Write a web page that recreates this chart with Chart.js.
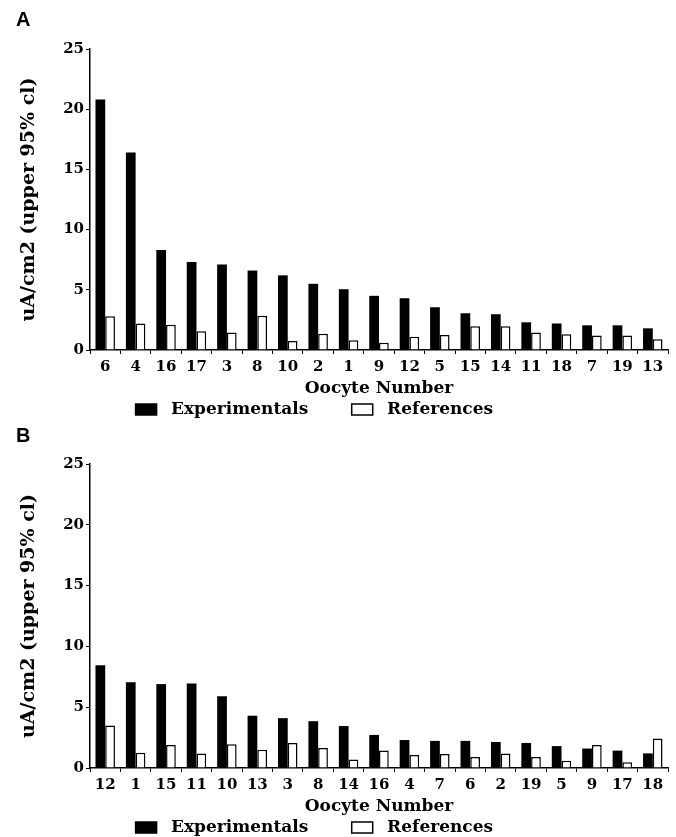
<!DOCTYPE html>
<html>
<head>
	<title>Oocyte currents</title>
	<script src="https://cdn.jsdelivr.net/npm/chart.js"></script>
	<style>
		body { margin: 0; background: #fff; overflow: hidden; }
		#wrap { position: relative; width: 676px; height: 837px; overflow: hidden; }
		.panel { position: absolute; left: 0; width: 676px; }
		.tag { position: absolute; left: 16px; font: bold 20px "Liberation Sans", Arial, sans-serif; color: #000; }
	</style>
</head>
<body>
	<div id="wrap">
		<div class="panel" style="top:0;height:428px"><canvas id="chartA"></canvas></div>
		<div class="panel" style="top:415px;height:431px"><canvas id="chartB"></canvas></div>
		<div class="tag" style="top:8px">A</div>
		<div class="tag" style="top:424px">B</div>
	</div>

	<script>
		// Panel A
		const oocytesA = ["6", "4", "16", "17", "3", "8", "10", "2", "1", "9", "12", "5", "15", "14", "11", "18", "7", "19", "13"];
		const experimentalsA = [20.8, 16.4, 8.3, 7.3, 7.1, 6.6, 6.2, 5.5, 5.05, 4.5, 4.3, 3.55, 3.05, 2.97, 2.3, 2.2, 2.05, 2.05, 1.8];
		const referencesA = [2.8, 2.2, 2.1, 1.55, 1.45, 2.85, 0.75, 1.35, 0.8, 0.6, 1.1, 1.25, 1.97, 1.97, 1.45, 1.3, 1.2, 1.2, 0.9];

		// Panel B
		const oocytesB = ["12", "1", "15", "11", "10", "13", "3", "8", "14", "16", "4", "7", "6", "2", "19", "5", "9", "17", "18"];
		const experimentalsB = [8.45, 7.05, 6.9, 6.95, 5.9, 4.3, 4.1, 3.85, 3.45, 2.72, 2.3, 2.23, 2.23, 2.14, 2.06, 1.8, 1.6, 1.43, 1.2];
		const referencesB = [3.5, 1.25, 1.9, 1.2, 1.95, 1.5, 2.05, 1.65, 0.7, 1.43, 1.07, 1.15, 0.9, 1.2, 0.9, 0.6, 1.9, 0.47, 2.42];

		const yTicks = [0, 5, 10, 15, 20, 25];

		const serif = "'DejaVu Serif', serif";

		// spaces only widen the legend items so they sit like the original
		const legendText = [" Experimentals       ", " References        "];

		function makeChart(id, labels, expData, refData) {
			return new Chart(document.getElementById(id), {
				type: "bar",
				data: {
					labels: labels,
					datasets: [
						{
							label: "Experimentals",
							data: expData,
							backgroundColor: "#000",
							borderColor: "#000",
							borderWidth: 0,
							categoryPercentage: 0.64,
							barPercentage: 1
						},
						{
							label: "References",
							data: refData,
							backgroundColor: "#fff",
							borderColor: "#000",
							borderWidth: 1.5,
							categoryPercentage: 0.64,
							barPercentage: 1
						}
					]
				},
				options: {
					responsive: true,
					maintainAspectRatio: false,
					animation: false,
					layout: { padding: { top: 49, left: 8, right: 8, bottom: 0 } },
					plugins: {
						tooltip: { enabled: false },
						legend: {
							position: "bottom",
							labels: {
								color: "#000",
								font: { family: serif, size: 17, weight: "bold" },
								boxWidth: 21,
								boxHeight: 11,
								padding: 2,
								generateLabels: (chart) => chart.data.datasets.map((ds, i) => ({
									text: legendText[i],
									fillStyle: ds.backgroundColor,
									strokeStyle: "#000",
									lineWidth: 1.5,
									datasetIndex: i
								}))
							}
						}
					},
					scales: {
						x: {
							grid: { display: true, drawOnChartArea: false, color: "#000", tickLength: 4, offset: true },
							border: { display: true, color: "#000", width: 1.5 },
							ticks: { color: "#000", font: { family: serif, size: 15, weight: "bold" }, padding: 4, maxRotation: 0, autoSkip: false },
							title: { display: true, text: "Oocyte Number", color: "#000", font: { family: serif, size: 17, weight: "bold" }, padding: { top: 0, bottom: 0 } },
							afterFit: (s) => { s.height = 49; }
						},
						y: {
							min: 0,
							max: 25,
							afterBuildTicks: (s) => { s.ticks = yTicks.map(v => ({ value: v })); },
							grid: { display: true, drawOnChartArea: false, color: "#000", tickLength: 4 },
							border: { display: true, color: "#000", width: 1.5 },
							ticks: { color: "#000", font: { family: serif, size: 15, weight: "bold" }, padding: 2 },
							title: { display: true, text: "uA/cm2 (upper 95% cl)", color: "#000", font: { family: serif, size: 19, weight: "bold" }, padding: { top: 10, bottom: 0 } },
							afterFit: (s) => { s.width = 82; }
						}
					}
				}
			});
		}

		makeChart("chartA", oocytesA, experimentalsA, referencesA);
		makeChart("chartB", oocytesB, experimentalsB, referencesB);
	</script>
</body>
</html>
